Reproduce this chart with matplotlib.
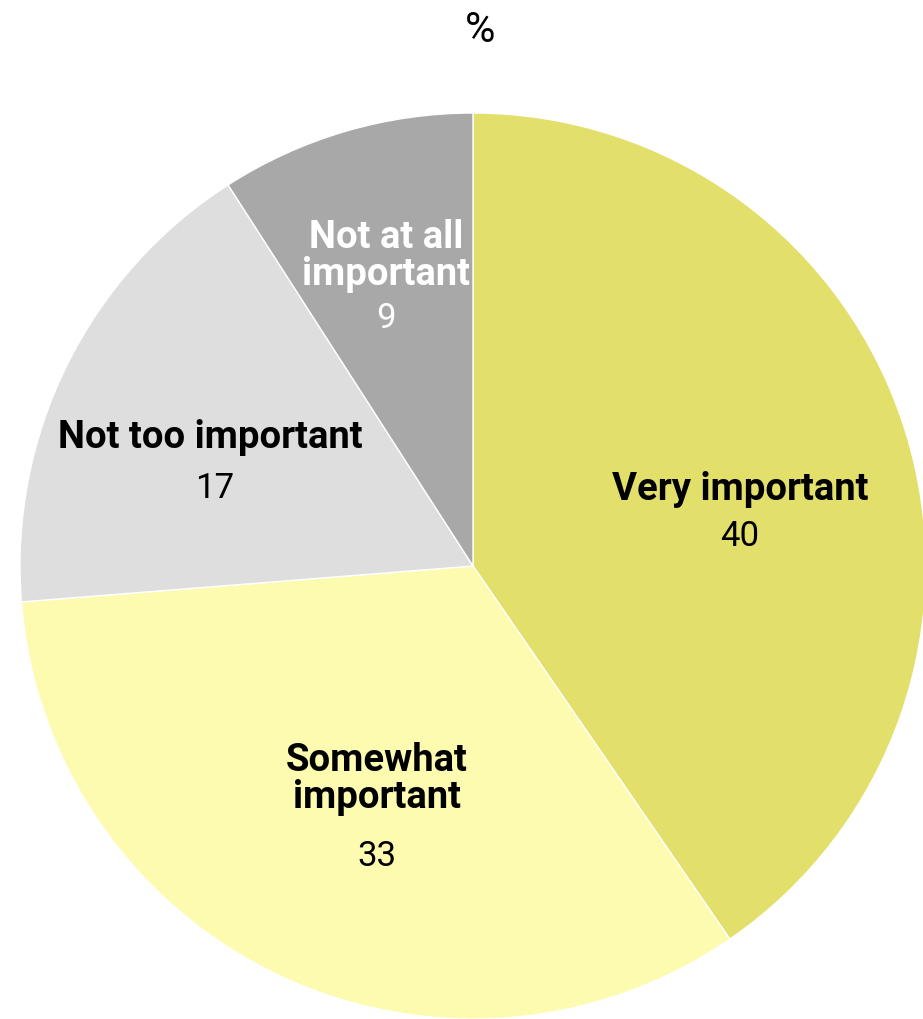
import matplotlib
matplotlib.use("Agg")
import matplotlib.pyplot as plt

categories = ["Very important", "Somewhat\nimportant", "Not too important", "Not at all\nimportant"]
values = [40, 33, 17, 9]
colors = ["#E2DF6A", "#FDFBB0", "#DEDEDE", "#A8A8A8"]
text_colors = ["#000000", "#000000", "#000000", "#FFFFFF"]
title = "%"

W, H = 923, 1020
fig = plt.figure(figsize=(W / 100, H / 100), dpi=100)
ax = fig.add_axes([0, 0, 1, 1])

cx, cy, r = 473, H - 567, 453
wedges, _ = ax.pie(values, colors=colors, startangle=90, counterclock=False,
                   center=(cx, cy), radius=r, frame=True,
                   wedgeprops=dict(edgecolor="white", linewidth=1))
ax.set_xlim(0, W)
ax.set_ylim(0, H)
ax.set_aspect("equal")
ax.axis("off")

# label positions (pixel coords from top-left)
label_pos = [(740, 489), (377, 779), (210, 438), (386, 256)]
value_pos = [(740, 537), (377, 857), (215, 488), (386, 318)]
for cat, v, tc, lp, vp in zip(categories, values, text_colors, label_pos, value_pos):
    ax.text(lp[0], H - lp[1], cat, ha="center", va="center", fontsize=27.5,
            fontweight="bold", family="Roboto", color=tc, linespacing=1.02)
    ax.text(vp[0], H - vp[1], str(v), ha="center", va="center", fontsize=25,
            family="Roboto", color=tc)

ax.text(480, H - 30, title, ha="center", va="center", fontsize=30, family="Roboto", color="black")

fig.savefig("out.png", dpi=100)
